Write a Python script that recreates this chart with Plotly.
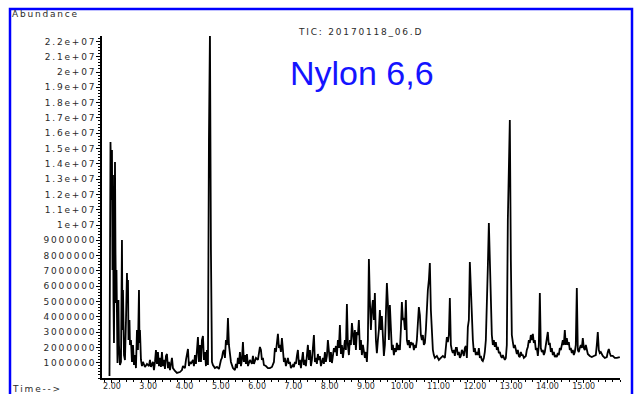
import plotly.graph_objects as go

# Total ion chromatogram of a Nylon 6,6 pyrolysate (retention time in minutes, abundance in millions of counts)
ret_time = [
    1.931, 1.959, 1.986, 2.000, 2.014, 2.028, 2.041, 2.055, 2.069, 2.083, 2.096, 2.110, 2.124, 2.138, 2.152,
    2.179, 2.193, 2.220, 2.248, 2.275, 2.289, 2.303, 2.331, 2.358, 2.386, 2.413, 2.427, 2.441, 2.455, 2.482,
    2.496, 2.523, 2.551, 2.579, 2.606, 2.634, 2.661, 2.689, 2.716, 2.744, 2.758, 2.771, 2.799, 2.826, 2.854,
    2.909, 2.964, 3.019, 3.047, 3.074, 3.129, 3.157, 3.185, 3.212, 3.240, 3.267, 3.295, 3.322, 3.350, 3.377,
    3.405, 3.433, 3.460, 3.488, 3.515, 3.543, 3.570, 3.598, 3.653, 3.680, 3.736, 3.791, 3.873, 3.928, 3.956,
    4.011, 4.039, 4.094, 4.121, 4.149, 4.176, 4.231, 4.259, 4.287, 4.314, 4.342, 4.369, 4.397, 4.424, 4.452,
    4.479, 4.507, 4.534, 4.562, 4.590, 4.617, 4.645, 4.672, 4.700, 4.727, 4.755, 4.782, 4.837, 4.893, 4.948,
    5.003, 5.030, 5.058, 5.085, 5.113, 5.140, 5.168, 5.196, 5.223, 5.251, 5.278, 5.333, 5.388, 5.416, 5.444,
    5.471, 5.499, 5.526, 5.554, 5.581, 5.609, 5.636, 5.664, 5.691, 5.719, 5.747, 5.802, 5.857, 5.884, 5.912,
    5.967, 6.022, 6.077, 6.105, 6.132, 6.160, 6.187, 6.242, 6.298, 6.353, 6.408, 6.463, 6.490, 6.518, 6.545,
    6.573, 6.601, 6.628, 6.656, 6.683, 6.711, 6.738, 6.766, 6.793, 6.848, 6.876, 6.904, 6.931, 6.986, 7.014,
    7.041, 7.069, 7.096, 7.124, 7.152, 7.179, 7.207, 7.234, 7.262, 7.289, 7.317, 7.344, 7.372, 7.399, 7.427,
    7.455, 7.482, 7.510, 7.537, 7.565, 7.592, 7.620, 7.647, 7.675, 7.702, 7.730, 7.758, 7.785, 7.813, 7.840,
    7.868, 7.895, 7.923, 7.950, 7.978, 8.006, 8.033, 8.061, 8.088, 8.116, 8.143, 8.171, 8.198, 8.226, 8.253,
    8.281, 8.309, 8.336, 8.364, 8.391, 8.419, 8.446, 8.474, 8.501, 8.529, 8.556, 8.584, 8.612, 8.639, 8.667,
    8.694, 8.722, 8.749, 8.777, 8.804, 8.832, 8.860, 8.887, 8.915, 8.942, 8.970, 8.997, 9.025, 9.052, 9.080,
    9.107, 9.135, 9.162, 9.190, 9.218, 9.245, 9.273, 9.300, 9.328, 9.355, 9.383, 9.410, 9.438, 9.466, 9.493,
    9.521, 9.548, 9.576, 9.603, 9.631, 9.658, 9.686, 9.713, 9.741, 9.769, 9.796, 9.824, 9.851, 9.879, 9.906,
    9.934, 9.961, 9.989, 10.016, 10.044, 10.072, 10.099, 10.127, 10.154, 10.182, 10.209, 10.237, 10.264, 10.292, 10.320,
    10.347, 10.375, 10.402, 10.430, 10.457, 10.485, 10.512, 10.540, 10.567, 10.595, 10.623, 10.650, 10.678, 10.705, 10.733,
    10.760, 10.788, 10.815, 10.843, 10.870, 10.898, 10.953, 11.008, 11.063, 11.118, 11.174, 11.201, 11.229, 11.256, 11.284,
    11.311, 11.339, 11.366, 11.394, 11.421, 11.449, 11.477, 11.504, 11.532, 11.559, 11.587, 11.614, 11.642, 11.669, 11.697,
    11.724, 11.752, 11.780, 11.807, 11.835, 11.862, 11.890, 11.917, 11.945, 11.972, 12.000, 12.027, 12.055, 12.083, 12.110,
    12.138, 12.165, 12.193, 12.220, 12.248, 12.275, 12.303, 12.330, 12.358, 12.386, 12.413, 12.441, 12.468, 12.496, 12.523,
    12.551, 12.578, 12.606, 12.633, 12.661, 12.689, 12.716, 12.744, 12.771, 12.799, 12.826, 12.854, 12.881, 12.909, 12.937,
    12.964, 12.992, 13.019, 13.047, 13.074, 13.102, 13.129, 13.157, 13.184, 13.212, 13.240, 13.267, 13.295, 13.322, 13.350,
    13.405, 13.432, 13.460, 13.488, 13.515, 13.543, 13.570, 13.598, 13.625, 13.653, 13.680, 13.708, 13.736, 13.763, 13.791,
    13.818, 13.846, 13.873, 13.901, 13.928, 13.956, 13.983, 14.011, 14.038, 14.066, 14.094, 14.121, 14.149, 14.176, 14.204,
    14.231, 14.259, 14.286, 14.314, 14.341, 14.369, 14.397, 14.424, 14.452, 14.479, 14.507, 14.534, 14.562, 14.589, 14.617,
    14.645, 14.672, 14.700, 14.727, 14.755, 14.782, 14.810, 14.837, 14.865, 14.892, 14.920, 14.948, 14.975, 15.003, 15.030,
    15.058, 15.085, 15.113, 15.168, 15.223, 15.278, 15.333, 15.361, 15.388, 15.416, 15.443, 15.471, 15.526, 15.581, 15.636,
    15.664, 15.691, 15.719, 15.746, 15.801, 15.856, 15.912, 15.967, 15.994,
]

abundance_mil = [
    0.13, 15.42, 11.63, 14.90, 7.06, 13.27, 5.10, 2.29, 7.71, 14.12, 8.37, 4.90, 7.06, 2.48, 0.98,
    5.10, 2.16, 0.85, 1.05, 9.02, 3.14, 5.75, 1.50, 1.18, 3.79, 6.86, 5.10, 6.41, 2.48, 3.79,
    2.16, 2.48, 1.05, 2.16, 0.85, 1.50, 0.65, 3.14, 1.83, 5.75, 2.29, 3.14, 1.18, 0.78, 1.05,
    0.72, 0.92, 0.78, 1.18, 0.72, 1.05, 0.52, 1.05, 1.83, 0.92, 1.70, 0.78, 1.31, 0.72, 1.70,
    0.78, 1.18, 0.59, 1.44, 1.57, 0.65, 1.05, 0.52, 1.31, 0.65, 0.46, 0.33, 0.39, 0.52, 0.78,
    0.65, 1.18, 1.90, 0.78, 1.05, 0.92, 1.18, 0.78, 1.50, 0.92, 2.16, 2.68, 1.05, 2.16, 1.05,
    2.48, 2.75, 1.18, 1.70, 0.78, 1.83, 0.85, 15.56, 22.61, 8.37, 1.05, 0.85, 0.65, 0.72, 0.59,
    1.18, 1.31, 1.70, 1.83, 1.31, 2.48, 2.16, 3.92, 2.16, 1.50, 1.05, 0.65, 0.52, 0.92, 0.65,
    1.31, 0.92, 1.70, 0.78, 1.18, 2.35, 1.05, 1.50, 0.92, 1.57, 0.78, 1.18, 0.92, 1.44, 0.92,
    1.31, 1.18, 2.03, 1.83, 1.18, 1.31, 0.85, 0.78, 0.65, 0.65, 0.72, 1.05, 1.96, 1.70, 2.16,
    2.88, 1.96, 2.16, 1.70, 2.61, 1.83, 1.05, 1.31, 0.78, 1.31, 0.92, 1.05, 0.65, 0.85, 0.72,
    1.05, 0.92, 1.44, 1.83, 0.85, 1.18, 0.65, 1.31, 1.70, 0.85, 1.18, 0.78, 1.57, 2.16, 1.18,
    1.83, 0.78, 1.18, 1.96, 2.81, 1.05, 1.31, 0.92, 1.57, 1.18, 1.44, 0.78, 1.18, 1.31, 0.92,
    1.70, 1.05, 1.44, 2.48, 1.50, 1.05, 1.70, 0.98, 1.44, 1.96, 1.70, 2.09, 1.44, 2.48, 1.96,
    3.46, 1.57, 2.16, 1.31, 1.96, 2.48, 1.83, 4.84, 2.16, 1.50, 2.48, 2.16, 3.59, 2.48, 2.16,
    3.14, 1.83, 3.01, 2.81, 3.79, 1.83, 2.48, 1.50, 2.16, 1.70, 1.31, 1.70, 1.05, 2.48, 7.78,
    5.10, 3.14, 4.44, 5.10, 3.79, 5.56, 2.48, 1.63, 2.48, 3.14, 4.44, 3.14, 4.05, 2.48, 1.44,
    2.16, 3.79, 6.21, 4.90, 2.48, 4.77, 3.14, 1.83, 2.16, 1.50, 1.96, 1.70, 2.29, 1.83, 2.16,
    1.83, 3.14, 4.97, 3.79, 3.92, 3.14, 5.10, 2.48, 2.16, 2.48, 1.96, 2.35, 2.16, 2.29, 1.83,
    2.16, 1.96, 2.48, 3.46, 4.64, 4.12, 2.81, 2.48, 2.81, 2.16, 2.29, 3.14, 5.10, 5.75, 6.41,
    7.52, 4.44, 2.48, 1.83, 1.50, 1.31, 1.44, 1.18, 1.31, 1.44, 1.31, 2.16, 2.68, 2.35, 2.81,
    5.23, 2.16, 1.83, 1.63, 1.83, 1.44, 1.96, 1.96, 1.50, 1.70, 1.31, 1.44, 1.83, 1.70, 1.44,
    1.96, 2.09, 1.31, 3.33, 3.79, 7.58, 5.75, 3.79, 2.48, 1.70, 1.96, 1.50, 1.70, 1.50, 1.96,
    1.31, 1.44, 1.18, 1.11, 1.31, 1.70, 2.48, 5.95, 7.25, 10.13, 7.06, 3.79, 2.81, 2.16, 2.48,
    2.03, 2.35, 1.83, 2.03, 1.63, 1.70, 1.44, 1.31, 1.50, 1.31, 1.18, 1.31, 2.16, 10.33, 12.94,
    16.86, 7.71, 2.81, 2.35, 1.96, 2.16, 1.70, 1.57, 1.83, 1.44, 1.37, 1.70, 1.50, 1.50, 1.31,
    1.44, 1.83, 2.03, 2.48, 2.29, 2.81, 2.48, 2.88, 2.29, 2.48, 1.83, 1.96, 1.44, 2.16, 5.56,
    1.96, 1.70, 1.83, 1.50, 1.70, 2.16, 2.61, 3.01, 2.16, 2.29, 1.70, 1.96, 1.50, 1.70, 1.37,
    1.50, 1.37, 1.63, 1.50, 1.96, 1.83, 2.16, 2.48, 2.16, 3.14, 2.16, 2.61, 2.16, 2.35, 1.83,
    1.96, 1.63, 1.83, 1.50, 1.70, 2.16, 5.88, 1.83, 1.70, 1.96, 2.16, 1.96, 2.61, 1.96, 1.83,
    2.16, 1.70, 1.57, 1.44, 1.37, 1.44, 1.50, 2.16, 3.01, 1.83, 1.63, 1.70, 1.44, 1.31, 1.37,
    1.70, 1.90, 1.63, 1.44, 1.44, 1.31, 1.31, 1.37, 1.37,
]

abundance = [v * 1e6 for v in abundance_mil]

# Axis ticks
x_tick_vals = [2, 3, 4, 5, 6, 7, 8, 9, 10, 11, 12, 13, 14, 15]
x_tick_text = ["2.00", "3.00", "4.00", "5.00", "6.00", "7.00", "8.00", "9.00",
               "10.00", "11.00", "12.00", "13.00", "14.00", "15.00"]
y_tick_vals = [1e6 * k for k in range(1, 23)]
y_tick_text = ["1000000", "2000000", "3000000", "4000000", "5000000", "6000000",
               "7000000", "8000000", "9000000", "1e+07", "1.1e+07", "1.2e+07",
               "1.3e+07", "1.4e+07", "1.5e+07", "1.6e+07", "1.7e+07", "1.8e+07",
               "1.9e+07", "2e+07", "2.1e+07", "2.2e+07"]

SP = "\u2009"


def spaced(s):
    return SP.join(s)


W, H = 639, 394
L, R, T, B = 102, 19, 36, 16
pw, ph = W - L - R, H - T - B


def px(xp):
    return (xp - L) / pw


def py(yp):
    return (H - B - yp) / ph


small_font = dict(family="DejaVu Sans", size=9, color="#2a2a2a")
x_font = dict(family="DejaVu Sans", size=8, color="#2a2a2a")

fig = go.Figure()
fig.add_trace(go.Scatter(
    x=ret_time, y=abundance, mode="lines",
    line=dict(color="black", width=1.8),
    hoverinfo="skip", showlegend=False,
))

fig.update_layout(
    width=W, height=H,
    margin=dict(l=L, r=R, t=T, b=B, pad=0),
    paper_bgcolor="white", plot_bgcolor="white",
    xaxis=dict(
        range=[1.725, 16.0], showgrid=False, zeroline=False, automargin=False,
        showline=True, linecolor="black", linewidth=1.5,
        tickmode="array", tickvals=x_tick_vals, ticktext=x_tick_text,
        ticks="outside", ticklen=3, tickcolor="black", tickwidth=1,
        tickfont=x_font, ticklabelstandoff=-3,
        minor=dict(dtick=0.2, tick0=0, ticks="outside", ticklen=2,
                   tickcolor="black", tickwidth=1, showgrid=False),
    ),
    yaxis=dict(
        range=[0, 342 / 15.3 * 1e6], showgrid=False, zeroline=False, automargin=False,
        showline=True, linecolor="black", linewidth=1.5,
        tickmode="array", tickvals=y_tick_vals,
        ticktext=[spaced(s) for s in y_tick_text],
        ticks="outside", ticklen=4, tickcolor="black", tickwidth=1,
        tickfont=small_font,
        minor=dict(dtick=2e5, tick0=0, ticks="outside", ticklen=2,
                   tickcolor="black", tickwidth=1, showgrid=False),
    ),
    annotations=[
        dict(text=spaced("Abundance"), x=px(10), y=py(14), xref="paper", yref="paper",
             xanchor="left", yanchor="middle", showarrow=False, font=small_font),
        dict(text=spaced("TIC: 20170118_06.D"), x=px(360), y=py(32), xref="paper", yref="paper",
             xanchor="center", yanchor="middle", showarrow=False, font=small_font),
        dict(text="Nylon 6,6", x=px(362), y=py(73), xref="paper", yref="paper",
             xanchor="center", yanchor="middle", showarrow=False,
             font=dict(family="Liberation Sans", size=34, color="#1414ff")),
        dict(text=spaced("Time-->"), x=px(10), y=py(389), xref="paper", yref="paper",
             xanchor="left", yanchor="middle", showarrow=False, font=small_font),
    ],
    shapes=[
        dict(type="rect", xref="paper", yref="paper",
             x0=px(10), x1=px(632), y0=py(402), y1=py(9),
             line=dict(color="#0000ff", width=2.5), fillcolor="rgba(0,0,0,0)", layer="above"),
    ],
)

fig.write_html("out.html")
